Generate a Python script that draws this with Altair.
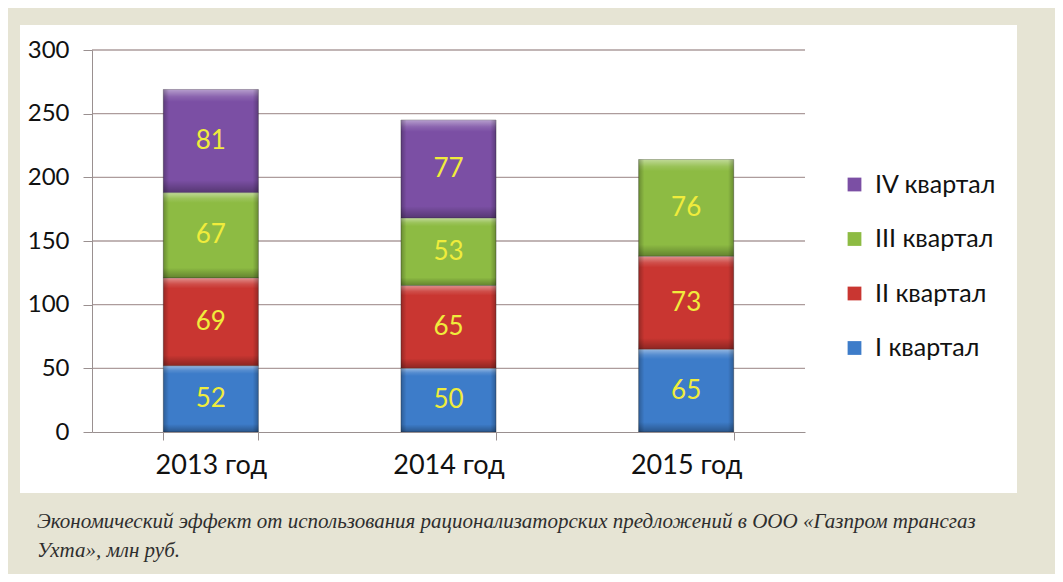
import altair as alt
import pandas as pd

years = ["2013 год", "2014 год", "2015 год"]
quarters = ["I квартал", "II квартал", "III квартал", "IV квартал"]
q1 = [52, 50, 65]
q2 = [69, 65, 73]
q3 = [67, 53, 76]
q4 = [81, 77, None]
colors = ["#3d7cc9", "#c93631", "#8dbb43", "#7b4fa4"]
y_ticks = [0, 50, 100, 150, 200, 250, 300]
caption = [
    "Экономический эффект от использования  рационализаторских предложений в ООО «Газпром трансгаз",
    "Ухта», млн руб.",
]

rows = []
for qi, (q, vals) in enumerate(zip(quarters, [q1, q2, q3, q4])):
    for y, v in zip(years, vals):
        if v is not None:
            rows.append({"year": y, "quarter": q, "qorder": qi, "value": v})
df = pd.DataFrame(rows)

FONT = "Lato"
W, H = 713, 382
GRID = "#ad9c9c"
AX = "#9a9090"
TXT = "#111111"

y_scale = alt.Scale(domain=[0, 300], nice=False)
x_scale = alt.Scale(paddingInner=0.6, paddingOuter=0.3)

x_enc = alt.X(
    "year:N",
    sort=years,
    scale=x_scale,
    axis=alt.Axis(
        title=None, labelAngle=0, labelFontSize=27, labelFont=FONT, labelColor=TXT,
        labelPadding=12, tickBand="extent", tickSize=8, tickColor=AX,
        domainColor=AX, grid=False, zindex=1,
    ),
)

panel_df = pd.DataFrame({"k": [0]})
panel = alt.Chart(panel_df).mark_rect(color="white").encode(
    x=alt.value(-72), x2=alt.value(925), y=alt.value(-25), y2=alt.value(443)
)

grid_df = pd.DataFrame({"t": y_ticks[1:]})
grid = alt.Chart(grid_df).mark_rule(color=GRID, strokeWidth=1.3).encode(
    y=alt.Y("t:Q", scale=y_scale),
    x=alt.value(0), x2=alt.value(W),
)

base = alt.Chart(df).transform_stack(
    stack="value", groupby=["year"], sort=[alt.SortField("qorder", order="ascending")],
    as_=["v0", "v1"],
).transform_calculate(mid="(datum.v0 + datum.v1) / 2")

bars = base.mark_bar(stroke="#2a2a2a", strokeWidth=0.8, strokeOpacity=0.45).encode(
    x=x_enc,
    y=alt.Y(
        "v0:Q",
        scale=y_scale,
        axis=alt.Axis(
            title=None, values=y_ticks, labelFontSize=24,
            labelFont=FONT, labelColor=TXT, labelPadding=14, tickSize=9,
            tickColor=AX, domainColor=AX, grid=False, zindex=1,
        ),
    ),
    y2="v1:Q",
    color=alt.Color(
        "quarter:N",
        scale=alt.Scale(domain=list(reversed(quarters)), range=list(reversed(colors))),
        legend=alt.Legend(
            title=None, orient="none", legendX=750, legendY=122, symbolType="square",
            symbolSize=190, symbolStrokeWidth=0, labelFont=FONT, labelFontSize=25,
            labelColor=TXT, rowPadding=28.5, labelOffset=8, symbolOpacity=1,
        ),
    ),
)

shade_v = {
    "gradient": "linear", "x1": 0, "y1": 0, "x2": 0, "y2": 1,
    "stops": [
        {"offset": 0, "color": "rgba(255,255,255,0.45)"},
        {"offset": 0.07, "color": "rgba(255,255,255,0.12)"},
        {"offset": 0.12, "color": "rgba(255,255,255,0)"},
        {"offset": 0.88, "color": "rgba(0,0,0,0)"},
        {"offset": 1, "color": "rgba(0,0,0,0.3)"},
    ],
}
shade_h = {
    "gradient": "linear", "x1": 0, "y1": 0, "x2": 1, "y2": 0,
    "stops": [
        {"offset": 0, "color": "rgba(0,0,0,0.25)"},
        {"offset": 0.06, "color": "rgba(0,0,0,0)"},
        {"offset": 0.94, "color": "rgba(0,0,0,0)"},
        {"offset": 1, "color": "rgba(0,0,0,0.25)"},
    ],
}
overlay_v = base.mark_bar().encode(
    x=alt.X("year:N", sort=years, scale=x_scale),
    y=alt.Y("v0:Q", scale=y_scale), y2="v1:Q",
    fill=alt.value(shade_v),
)
overlay_h = base.mark_bar().encode(
    x=alt.X("year:N", sort=years, scale=x_scale),
    y=alt.Y("v0:Q", scale=y_scale), y2="v1:Q",
    fill=alt.value(shade_h),
)

labels = base.mark_text(font=FONT, fontSize=26, color="#f0ec3c").encode(
    x=alt.X("year:N", sort=years),
    y=alt.Y("mid:Q", stack=None),
    text="value:Q",
)

cap_df = pd.DataFrame({"l1": [caption[0]], "l2": [caption[1]]})
cap_style = dict(
    font="Liberation Serif", fontStyle="italic", fontSize=21, color="#2e2e2e",
    align="left", baseline="alphabetic",
)
cap1 = alt.Chart(cap_df).mark_text(**cap_style).encode(
    x=alt.value(-55), y=alt.value(478), text="l1:N"
)
cap2 = alt.Chart(cap_df).mark_text(**cap_style).encode(
    x=alt.value(-55), y=alt.value(507), text="l2:N"
)

chart = alt.layer(panel, grid, bars, overlay_v, overlay_h, labels, cap1, cap2).properties(
    width=W, height=H,
    background="#e6e4d4",
    padding={"left": 84, "top": 42, "right": 250, "bottom": 142},
    autosize=alt.AutoSizeParams(type="none"),
).configure_view(stroke=None)

chart.save("out.html", embed_options={"renderer": "svg", "actions": False})
